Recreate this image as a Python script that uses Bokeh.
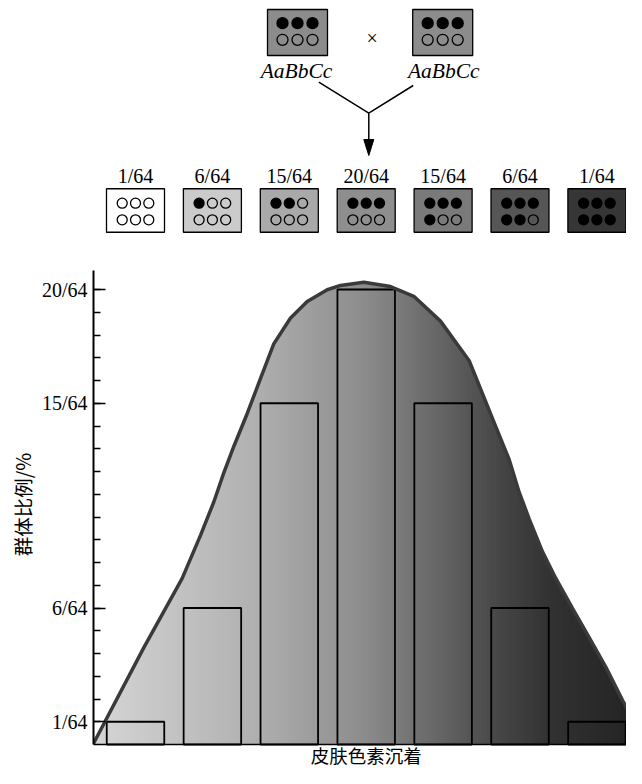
import numpy as np
from bokeh.plotting import figure
from bokeh.layouts import column
from bokeh.models import Range1d, FixedTicker, Span
from bokeh.core.properties import value
from bokeh.embed import file_html
from bokeh.resources import INLINE

# ---------------- data ----------------
classes = [0, 1, 2, 3, 4, 5, 6]                 # pigmentation classes (number of dominant alleles)
counts = [1, 6, 15, 20, 15, 6, 1]               # proportion in units of 1/64
fractions = ["1/64", "6/64", "15/64", "20/64", "15/64", "6/64", "1/64"]
tick_values = [1, 6, 15, 20]
tick_labels = ["1/64", "6/64", "15/64", "20/64"]
parent_genotypes = ["AaBbCc", "AaBbCc"]
parent_dominant = [3, 3]
x_title = "皮肤色素沉着"
y_title = "群体比例/%"
# bell curve outline (x in class units, y in 1/64 units)
curve_x = [-0.553, 0.108, 0.607, 0.845, 1.018, 1.148, 1.278, 1.453, 1.626, 1.798,
           2.016, 2.233, 2.493, 2.666, 2.969, 3.316, 3.619, 3.966, 4.339, 4.512,
           4.685, 4.860, 4.990, 5.120, 5.293, 5.466, 5.683, 5.900, 6.116, 6.333,
           6.506, 6.593, 6.619]
curve_y = [0.0, 4.26, 7.30, 9.19, 10.66, 11.94, 13.10, 14.55, 16.09, 17.61,
           18.75, 19.47, 19.99, 20.18, 20.32, 20.13, 19.70, 18.61, 16.87, 15.42,
           13.97, 12.52, 11.08, 9.91, 8.47, 7.30, 5.98, 4.70, 3.40, 1.94,
           0.92, 0.35, 0.0]

# ---------------- layout helpers (styling only) ----------------
PXX, PXY = 76.9, 22.75
Y0 = 744          # screen row of the chart baseline
W = 626
TOP_H = 240
BOT_H = 528


def fx(px):
    return 3 + (px - 365.7) / PXX


def fy(py):
    return (Y0 - py) / PXY


box_colors = ["#ffffff", "#cbcbcb", "#a9a9a9", "#8e8e8e", "#7a7a7a", "#565656", "#363636"]
SERIF = value("Liberation Serif")

# ================= top diagram (y in screen pixels) =================
top = figure(width=W, height=TOP_H, x_range=Range1d(fx(93), fx(W)),
             y_range=Range1d(TOP_H, 0), output_backend="svg", toolbar_location=None,
             x_axis_location=None, y_axis_location=None,
             min_border_left=93, min_border_right=0, min_border_top=0, min_border_bottom=0)
top.outline_line_color = None
top.xgrid.visible = False
top.ygrid.visible = False

# parent boxes
pcx = [fx(297), fx(442.2)]
top.rect(x=pcx, y=[32, 32], width=60 / PXX, height=46,
         fill_color="#8c8c8c", line_color="black", line_width=1.3)
pdx, pdy, pdc = [], [], []
for cx, nd in zip(pcx, parent_dominant):
    for i in range(6):
        row, col = divmod(i, 3)
        pdx.append(cx + (col - 1) * 15 / PXX)
        pdy.append(22.7 if row == 0 else 39.3)
        pdc.append("black" if i < nd else "#8c8c8c")
top.scatter(pdx, pdy, size=11, marker="circle", fill_color=pdc,
            line_color="black", line_width=1.3)
top.text(x=[fx(296), fx(443.3)], y=[70, 70], text=parent_genotypes,
         text_font=SERIF, text_font_style="italic", text_font_size="21.5px",
         text_align="center", text_baseline="middle", text_color="black")
top.text(x=[fx(371.7)], y=[37], text=["×"], text_font=SERIF,
         text_font_size="20px", text_align="center", text_baseline="middle",
         text_color="black")

# cross lines and arrow
top.line([fx(318.3), fx(368.3), fx(412.7)], [81.7, 112.7, 85],
         line_color="black", line_width=1.5)
top.line([fx(368.3), fx(368.3)], [112.7, 141], line_color="black", line_width=1.5)
top.patch([fx(368.3), fx(363.3), fx(373.3)], [155, 139, 139],
          fill_color="black", line_color="black", line_width=1)

# offspring boxes
top.rect(x=classes, y=[210] * 7, width=58 / PXX, height=43.5,
         fill_color=box_colors, line_color="black", line_width=1.3)
dxs, dys, dcol = [], [], []
for k, c in zip(classes, box_colors):
    for i in range(6):
        row, col = divmod(i, 3)
        dxs.append(k + (col - 1) * 13.3 / PXX)
        dys.append(202.7 if row == 0 else 219.3)
        dcol.append("black" if i < k else c)
top.scatter(dxs, dys, size=10, marker="circle", fill_color=dcol,
            line_color="black", line_width=1.3)
top.text(x=classes, y=[175] * 7, text=fractions, text_font=SERIF,
         text_font_size="20px", text_align="center", text_baseline="middle",
         text_color="black")

# ================= bar chart with bell curve =================
p = figure(width=W, height=BOT_H, x_range=Range1d(fx(93), fx(W)),
           y_range=Range1d(fy(TOP_H + BOT_H), fy(TOP_H)), output_backend="svg",
           toolbar_location=None, x_axis_location=None,
           min_border_left=93, min_border_right=0, min_border_top=0, min_border_bottom=0)
p.outline_line_color = None
p.xgrid.visible = False
p.ygrid.visible = False

# gradient fill under the curve (vertical strips, then white mask above curve)
n = 160
edges = np.linspace(fx(90), fx(645), n + 1)
w = edges[1] - edges[0]
mids = (edges[:-1] + edges[1:]) / 2
mid_px = 365.7 + (mids - 3) * PXX
g = np.interp(mid_px, [93, 250, 365, 450, 500, 550, 634], [214, 178, 140, 96, 70, 50, 36])
cols = ["#%02x%02x%02x" % (int(v), int(v), int(v)) for v in g]
p.quad(left=edges[:-1], right=edges[1:] + w * 0.6, bottom=0, top=20.8,
       fill_color=cols, line_color=None)
mask_x = list(curve_x) + [6.9, 6.9, -0.7, -0.7]
mask_y = list(curve_y) + [0.0, 22.8, 22.8, 0.0]
p.patch(mask_x, mask_y, fill_color="white", line_color="white", line_width=1)

# bars
p.vbar(x=classes, top=counts, bottom=0, width=0.748, fill_alpha=0,
       line_color="black", line_width=1.8)

# curve outline
p.line(curve_x, curve_y, line_color="#3a3a3a", line_width=3.5)

# baseline of the chart
p.add_layout(Span(location=0, dimension="width", line_color="black", line_width=1.6))

# x title below the baseline
p.text(x=[3], y=[fy(754.5)], text=[x_title], text_font=value("Noto Sans CJK SC"),
       text_font_size="18.5px", text_align="center", text_baseline="middle",
       text_color="black")

# y axis
yax = p.yaxis[0]
yax.ticker = FixedTicker(ticks=tick_values, minor_ticks=list(range(1, 21)))
yax.major_label_overrides = {v: s for v, s in zip(tick_values, tick_labels)}
yax.bounds = (0, fy(270))
yax.axis_line_color = "black"
yax.axis_line_width = 2
yax.major_tick_in = 12
yax.major_tick_out = 0
yax.minor_tick_in = 7
yax.minor_tick_out = 0
yax.major_tick_line_width = 1.5
yax.minor_tick_line_width = 1.5
yax.major_tick_line_color = "black"
yax.minor_tick_line_color = "black"
yax.major_label_text_font = "Liberation Serif"
yax.major_label_text_font_size = "20px"
yax.major_label_text_color = "black"
yax.major_label_standoff = 6
yax.axis_label = y_title
yax.axis_label_text_font = "Noto Sans CJK SC"
yax.axis_label_text_font_size = "19.5px"
yax.axis_label_text_font_style = "normal"
yax.axis_label_text_color = "black"
yax.axis_label_standoff = 2

layout = column(top, p, spacing=0)
open("out.html", "w").write(file_html(layout, INLINE))
